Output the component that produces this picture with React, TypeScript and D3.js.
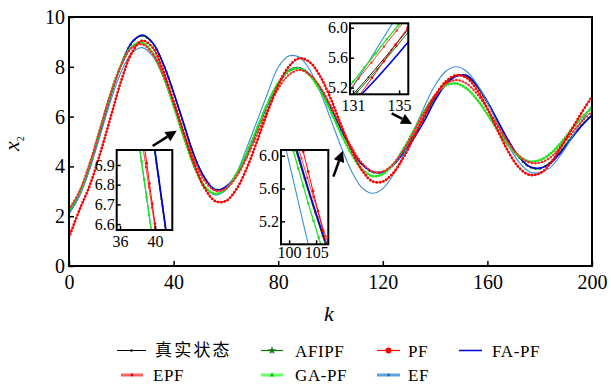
import { useEffect, useRef } from 'react';
import * as d3 from 'd3';

// sample index k (every 4 steps)
const kSteps = d3.range(0, 201, 4);

const trueState = [2.15, 2.85, 4.00, 5.40, 6.85, 8.10, 8.95, 9.25, 8.95, 8.15,
  6.95, 5.65, 4.40, 3.50, 3.07, 3.17, 3.68, 4.50, 5.50, 6.50,
  7.32, 7.83, 7.94, 7.68, 7.12, 6.34, 5.47, 4.70, 4.10, 3.78,
  3.78, 4.08, 4.62, 5.28, 6.02, 6.78, 7.35, 7.63, 7.60, 7.20,
  6.55, 5.78, 5.01, 4.38, 3.99, 3.92, 4.15, 4.60, 5.15, 5.65, 6.05];
const afipf = [2.14, 2.86, 4.02, 5.42, 6.83, 8.12, 8.97, 9.24, 8.93, 8.14,
  6.97, 5.63, 4.42, 3.52, 3.08, 3.15, 3.70, 4.52, 5.48, 6.52,
  7.34, 7.82, 7.95, 7.66, 7.14, 6.32, 5.49, 4.68, 4.12, 3.76,
  3.80, 4.06, 4.60, 5.25, 5.98, 6.74, 7.33, 7.64, 7.62, 7.22,
  6.57, 5.80, 5.03, 4.36, 3.98, 3.90, 4.17, 4.62, 5.17, 5.67, 6.08];
const pf = [1.15, 2.25, 3.25, 4.55, 6.00, 7.45, 8.55, 9.05, 8.77, 7.85,
  6.60, 5.30, 4.05, 3.10, 2.60, 2.61, 3.08, 3.93, 5.03, 6.20,
  7.25, 8.00, 8.34, 8.19, 7.63, 6.74, 5.68, 4.66, 3.85, 3.40,
  3.39, 3.74, 4.37, 5.19, 6.05, 6.83, 7.40, 7.66, 7.56, 7.08,
  6.32, 5.43, 4.59, 3.96, 3.66, 3.72, 4.10, 4.75, 5.45, 6.15, 6.80];
const fapf = [2.12, 2.88, 3.97, 5.43, 6.88, 8.08, 8.98, 9.28, 8.97, 8.12,
  6.97, 5.68, 4.38, 3.53, 3.05, 3.19, 3.66, 4.47, 5.52, 6.48,
  7.30, 7.85, 7.96, 7.70, 7.15, 6.38, 5.50, 4.72, 4.08, 3.80,
  3.76, 4.05, 4.55, 5.15, 5.85, 6.65, 7.28, 7.62, 7.66, 7.25,
  6.60, 5.82, 5.05, 4.40, 4.00, 3.93, 4.12, 4.55, 5.10, 5.62, 6.06];
const epf = [2.28, 3.00, 4.15, 5.55, 6.95, 8.07, 8.76, 8.90, 8.52, 7.70,
  6.58, 5.34, 4.22, 3.40, 3.02, 3.11, 3.58, 4.36, 5.31, 6.28,
  7.12, 7.67, 7.87, 7.69, 7.19, 6.45, 5.60, 4.78, 4.14, 3.80,
  3.79, 4.10, 4.68, 5.42, 6.19, 6.86, 7.31, 7.47, 7.33, 6.92,
  6.31, 5.62, 4.96, 4.44, 4.16, 4.15, 4.35, 4.80, 5.30, 5.80, 6.20];
const gapf = [2.22, 2.94, 4.10, 5.52, 6.93, 8.09, 8.81, 8.96, 8.55, 7.64,
  6.43, 5.13, 3.97, 3.17, 2.90, 3.10, 3.68, 4.55, 5.55, 6.54,
  7.34, 7.83, 7.94, 7.66, 7.05, 6.23, 5.32, 4.50, 3.89, 3.61,
  3.69, 4.08, 4.71, 5.47, 6.23, 6.86, 7.25, 7.33, 7.13, 6.69,
  6.09, 5.44, 4.84, 4.40, 4.20, 4.25, 4.50, 4.93, 5.45, 5.95, 6.35];
const ef = [2.11, 2.80, 3.91, 5.27, 6.65, 7.81, 8.55, 8.77, 8.43, 7.60,
  6.44, 5.18, 4.02, 3.19, 2.85, 3.05, 3.72, 4.75, 5.85, 6.95,
  7.98, 8.43, 8.39, 7.89, 7.02, 5.92, 4.80, 3.82, 3.15, 2.92,
  3.11, 3.66, 4.49, 5.46, 6.43, 7.26, 7.81, 8.00, 7.82, 7.31,
  6.57, 5.69, 4.85, 4.18, 3.79, 3.74, 3.95, 4.45, 5.10, 5.80, 6.45];

const legendNames = ['真实状态', 'AFIPF', 'PF', 'FA-PF', 'EPF', 'GA-PF', 'EF'];
const xTicks = [0, 40, 80, 120, 160, 200];
const yTicks = [0, 2, 4, 6, 8, 10];

// zoomed windows (k range, x2 range, ticks)
const insetK = [[35.62, 41.97], [98.5, 107.25], [130.74, 135.8]];
const insetY = [[6.57, 6.976], [4.92, 6.07], [5.11, 6.06]];
const insetKTicks = [[36, 40], [100, 105], [131, 135]];
const insetYTicks = [[6.6, 6.7, 6.8, 6.9], [5.2, 5.6, 6.0], [5.2, 5.6, 6.0]];

// arrows in data coords: [k, x2] tail -> tip
const arrowFrom = [[32.0, 4.82], [101.1, 3.59], [123.4, 6.13]];
const arrowTo = [[41.2, 5.43], [104.7, 4.63], [131.2, 5.70]];

const styles = [
  { color: '#000000', width: 0.9, dot: 1.6, gap: 6 },
  { color: '#0b7a0b', width: 1, dot: 2.2, gap: 5 },
  { color: '#ff0000', width: 1, dot: 2.8, gap: 3.4 },
  { color: '#0000e0', width: 1.6 },
  { color: '#ff2828', width: 0.9, dot: 2.4, gap: 3.4 },
  { color: '#20e620', width: 1.3, dot: 2.8, gap: 3 },
  { color: '#3a8fd6', width: 1.1 },
];
const drawOrder = [0, 1, 3, 6, 5, 4, 2];

const serif = '"Liberation Serif", "Times New Roman", Times, "DejaVu Serif", serif';

const App = () => {
  const svgRef = useRef<SVGSVGElement>(null);

  useEffect(() => {
    const svg = d3.select(svgRef.current);
    svg.selectAll('*').remove();

    const left = 69, right = 592, top = 17, bottom = 266;
    const x = d3.scaleLinear([0, 200], [left, right]);
    const y = d3.scaleLinear([0, 10], [bottom, top]);

    const seriesList = [trueState, afipf, pf, fapf, epf, gapf, ef].map((vals, i) => ({
      pts: vals.map((v, j) => [kSteps[j], v] as [number, number]),
      style: styles[i] as any,
    }));

    const defs = svg.append('defs');

    const drawSeries = (g: any, sx: any, sy: any, gapMul: number) => {
      const line = d3.line<[number, number]>()
        .curve(d3.curveCatmullRom.alpha(0.5))
        .x((d) => sx(d[0]))
        .y((d) => sy(d[1]));
      drawOrder.forEach((i) => {
        const s = seriesList[i];
        g.append('path')
          .attr('d', line(s.pts))
          .attr('fill', 'none')
          .attr('stroke', s.style.color)
          .attr('stroke-width', s.style.width);
        if (s.style.dot) {
          g.append('path')
            .attr('d', line(s.pts))
            .attr('fill', 'none')
            .attr('stroke', s.style.color)
            .attr('stroke-width', s.style.dot)
            .attr('stroke-linecap', 'round')
            .attr('stroke-dasharray', `0 ${s.style.gap * gapMul}`);
        }
      });
    };

    const styleTicks = (g: any, size: number) => {
      g.attr('font-family', null).attr('font-size', null);
      g.select('.domain').remove();
      g.selectAll('.tick line').attr('stroke-width', 1.5);
      g.selectAll('.tick text')
        .style('font-family', serif)
        .style('font-size', `${size}px`)
        .attr('fill', '#000');
    };

    // main plot
    defs.append('clipPath').attr('id', 'clip-main')
      .append('rect').attr('x', left).attr('y', top)
      .attr('width', right - left).attr('height', bottom - top);
    const main = svg.append('g').attr('clip-path', 'url(#clip-main)');
    drawSeries(main, x, y, 1);

    // frame
    svg.append('rect')
      .attr('x', left).attr('y', top)
      .attr('width', right - left).attr('height', bottom - top)
      .attr('fill', 'none').attr('stroke', '#000').attr('stroke-width', 2);

    // axes
    svg.append('g')
      .attr('transform', `translate(0,${bottom})`)
      .call(d3.axisBottom(x).tickValues(xTicks).tickSize(-5).tickPadding(9).tickFormat(d3.format('d')))
      .call((g) => styleTicks(g, 20));
    svg.append('g')
      .attr('transform', `translate(${left},0)`)
      .call(d3.axisLeft(y).tickValues(yTicks).tickSize(-5).tickPadding(4).tickFormat(d3.format('d')))
      .call((g) => styleTicks(g, 20));

    // axis titles
    svg.append('text')
      .attr('x', 329).attr('y', 321)
      .attr('text-anchor', 'middle')
      .style('font-family', serif).style('font-style', 'italic').style('font-size', '22px')
      .text('k');
    const yl = svg.append('text')
      .attr('transform', 'translate(19,151) rotate(-90)')
      .style('font-family', serif).style('font-size', '22px');
    yl.append('tspan').style('font-style', 'italic').text('x');
    yl.append('tspan').attr('dy', 5).style('font-size', '10px').text('2');

    // insets
    const boxes = [[116.7, 150, 172.3, 230], [281, 150, 328.3, 244.3], [350, 23.3, 408.3, 94.3]];
    const xPads = [6, 2, 5];
    boxes.forEach((b, i) => {
      const sx = d3.scaleLinear(insetK[i], [b[0], b[2]]);
      const sy = d3.scaleLinear(insetY[i], [b[3], b[1]]);
      const id = `clip-inset-${i}`;
      defs.append('clipPath').attr('id', id)
        .append('rect').attr('x', b[0]).attr('y', b[1])
        .attr('width', b[2] - b[0]).attr('height', b[3] - b[1]);
      svg.append('rect')
        .attr('x', b[0]).attr('y', b[1])
        .attr('width', b[2] - b[0]).attr('height', b[3] - b[1])
        .attr('fill', '#fff');
      const g = svg.append('g').attr('clip-path', `url(#${id})`);
      drawSeries(g, sx, sy, 6);
      svg.append('rect')
        .attr('x', b[0]).attr('y', b[1])
        .attr('width', b[2] - b[0]).attr('height', b[3] - b[1])
        .attr('fill', 'none').attr('stroke', '#000').attr('stroke-width', 2);
      svg.append('g')
        .attr('transform', `translate(0,${b[3]})`)
        .call(d3.axisBottom(sx).tickValues(insetKTicks[i]).tickSize(-4).tickPadding(xPads[i]).tickFormat(d3.format('d')))
        .call((g2) => styleTicks(g2, 16));
      svg.append('g')
        .attr('transform', `translate(${b[0]},0)`)
        .call(d3.axisLeft(sy).tickValues(insetYTicks[i]).tickSize(-4).tickPadding(2).tickFormat(d3.format('.1f')))
        .call((g2) => styleTicks(g2, 16));
    });

    // arrows
    arrowFrom.forEach((f, i) => {
      const x0 = x(f[0]), y0 = y(f[1]);
      const x1 = x(arrowTo[i][0]), y1 = y(arrowTo[i][1]);
      const a = Math.atan2(y1 - y0, x1 - x0);
      const hl = 11, hw = 5.5;
      const bx = x1 - hl * Math.cos(a), by = y1 - hl * Math.sin(a);
      svg.append('line')
        .attr('x1', x0).attr('y1', y0).attr('x2', bx).attr('y2', by)
        .attr('stroke', '#000').attr('stroke-width', 2.5);
      svg.append('path')
        .attr('d', `M${x1},${y1}L${bx - hw * Math.sin(a)},${by + hw * Math.cos(a)}L${bx + hw * Math.sin(a)},${by - hw * Math.cos(a)}Z`)
        .attr('fill', '#000');
    });

    // legend
    const legX0 = [117, 261, 377, 459, 121, 261, 377];
    const legX1 = [146, 283, 400, 482, 143, 283, 400];
    const legTx = [155, 295, 408, 492, 153, 295, 408];
    const legY = [350.5, 350.5, 350.5, 350.5, 375, 375, 375];
    const legLine = [
      { c: '#000000', w: 1 }, { c: '#0b7a0b', w: 1.2 }, { c: '#ff0000', w: 1.2 }, { c: '#0000e0', w: 1.5 },
      { c: '#ff6464', w: 3 }, { c: '#66ff66', w: 3 }, { c: '#5ea2dc', w: 3 },
    ];
    const legMark = [
      { t: d3.symbolCircle, s: 5, c: '#000' }, { t: d3.symbolStar, s: 22, c: '#0b7a0b' },
      { t: d3.symbolCircle, s: 28, c: '#ff0000' }, null,
      { t: d3.symbolCircle, s: 6, c: '#e00000' }, { t: d3.symbolTriangle, s: 10, c: '#10c010' },
      { t: d3.symbolCircle, s: 6, c: '#1f6fb8' },
    ];
    legendNames.forEach((name, i) => {
      const g = svg.append('g');
      g.append('line')
        .attr('x1', legX0[i]).attr('x2', legX1[i])
        .attr('y1', legY[i]).attr('y2', legY[i])
        .attr('stroke', legLine[i].c).attr('stroke-width', legLine[i].w);
      const mk = legMark[i];
      if (mk) {
        g.append('path')
          .attr('transform', `translate(${(legX0[i] + legX1[i]) / 2},${legY[i]})`)
          .attr('d', d3.symbol(mk.t, mk.s)())
          .attr('fill', mk.c);
      }
      const cjk = /[\u4e00-\u9fff]/.test(name);
      g.append('text')
        .attr('x', legTx[i]).attr('y', legY[i] + (cjk ? 5.5 : 6))
        .style('font-family', cjk ? '"Noto Sans CJK SC"' : serif)
        .style('font-size', cjk ? '17px' : '17px')
        .style('letter-spacing', cjk ? '2.2px' : '0.6px')
        .attr('fill', '#000')
        .text(name);
    });
  }, []);

  return (
    <div style={{ position: 'absolute', left: 0, top: 0 }}>
      <svg ref={svgRef} width={611} height={385} style={{ display: 'block', background: '#fff' }} />
    </div>
  );
};

export default App;
